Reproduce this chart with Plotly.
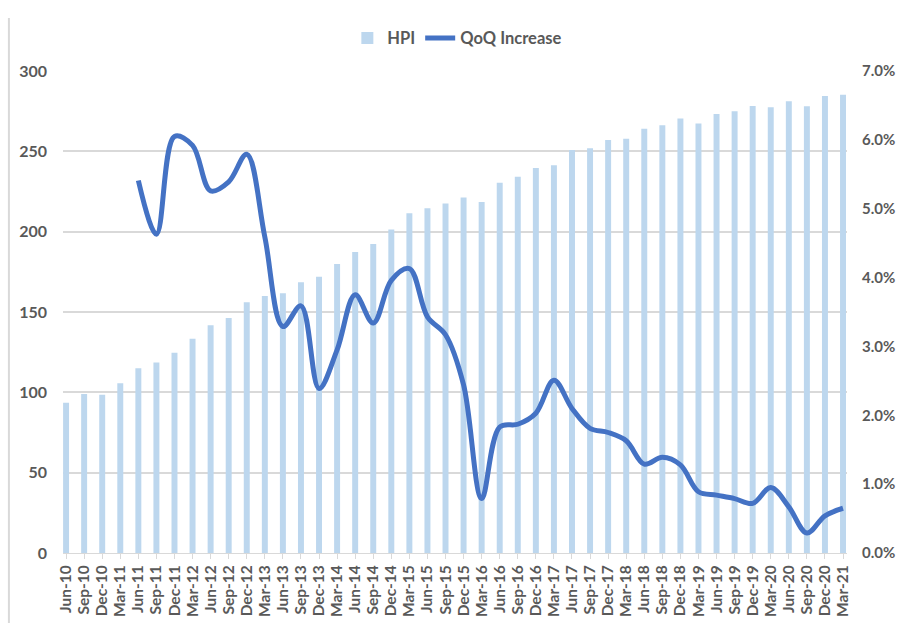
import plotly.graph_objects as go

quarters = ["Jun-10","Sep-10","Dec-10","Mar-11","Jun-11","Sep-11","Dec-11","Mar-12",
            "Jun-12","Sep-12","Dec-12","Mar-13","Jun-13","Sep-13","Dec-13","Mar-14",
            "Jun-14","Sep-14","Dec-14","Mar-15","Jun-15","Sep-15","Dec-15","Mar-16",
            "Jun-16","Sep-16","Dec-16","Mar-17","Jun-17","Sep-17","Dec-17","Mar-18",
            "Jun-18","Sep-18","Dec-18","Mar-19","Jun-19","Sep-19","Dec-19","Mar-20",
            "Jun-20","Sep-20","Dec-20","Mar-21"]

hpi = [93.5, 99, 98.5, 105.6, 115, 118.5, 124.7, 133.4,
       141.7, 146.3, 156, 160, 161.6, 168.5, 172, 179.9,
       187.4, 192.3, 201.4, 211.4, 214.5, 217.6, 221.2, 218.5,
       230.5, 234.2, 239.6, 241.3, 250.8, 251.9, 257, 257.8,
       264.1, 266.2, 270.4, 267.4, 273.2, 274.9, 278.2, 277.4,
       281.1, 278, 284.4, 285.2]

qoq = [None, None, None, None, 0.0541, 0.0463, 0.0605, 0.0592,
       0.0526, 0.0539, 0.0579, 0.0459, 0.0329, 0.0359, 0.0239, 0.0295,
       0.0375, 0.0334, 0.0396, 0.0413, 0.0343, 0.0317, 0.0244, 0.0079,
       0.0183, 0.0187, 0.0203, 0.0251, 0.0210, 0.0181, 0.0175, 0.0163,
       0.0129, 0.0139, 0.0128, 0.0089, 0.0084, 0.0079, 0.0072, 0.0095,
       0.0067, 0.0029, 0.0054, 0.0065]

font_family = "Lato"
gray = "#595959"

fig = go.Figure()
fig.add_trace(go.Bar(
    x=quarters, y=hpi, name="HPI",
    marker=dict(color="#BDD7EE", line=dict(width=0)),
    width=0.33,
))
fig.add_trace(go.Scatter(
    x=quarters, y=qoq, name="QoQ Increase", yaxis="y2",
    mode="lines", line=dict(color="#4472C4", width=5, shape="spline", smoothing=1.0),
    connectgaps=False,
))

fig.update_layout(
    width=897, height=623,
    margin=dict(l=63, r=50, t=71, b=70),
    plot_bgcolor="white", paper_bgcolor="white",
    font=dict(family=font_family, color=gray, size=15, weight="bold"),
    showlegend=True,
    legend=dict(orientation="h", x=0.503, xanchor="center", y=1.068, yanchor="middle",
                font=dict(family=font_family, color=gray, size=16.5, weight="bold"),
                traceorder="normal", itemwidth=30, bgcolor="rgba(0,0,0,0)"),
    xaxis=dict(
        type="category", range=[-0.17, 43.22], tickangle=-90,
        tickmode="array", tickvals=quarters, ticktext=quarters,
        showgrid=False, showline=True, linecolor="#D9D9D9", linewidth=1,
        ticks="outside", ticklen=5, tickcolor="#D9D9D9",
        tickfont=dict(family=font_family, color=gray, size=15.5, weight="bold"),
        automargin=False,
    ),
    yaxis=dict(
        range=[0, 300], dtick=50, showgrid=True, gridcolor="#D9D9D9", gridwidth=1.5,
        zeroline=False, showline=False, ticks="", ticklabelstandoff=15,
        tickfont=dict(family=font_family, color=gray, size=16, weight="bold"),
        automargin=False,
    ),
    yaxis2=dict(
        range=[0, 0.07], dtick=0.01, tickformat=".1%", overlaying="y", side="right",
        showgrid=False, zeroline=False, showline=False, ticks="", ticklabelstandoff=14,
        tickfont=dict(family=font_family, color=gray, size=15, weight="bold"),
        automargin=False,
    ),
    shapes=[dict(type="line", xref="paper", yref="paper",
                 x0=-0.069, x1=-0.069, y0=-0.2, y1=1.11,
                 line=dict(color="#D9D9D9", width=2))],
)

fig.write_html("out.html", config={"displayModeBar": False},
               post_script="document.body.style.margin='0';document.body.style.overflow='hidden';")
